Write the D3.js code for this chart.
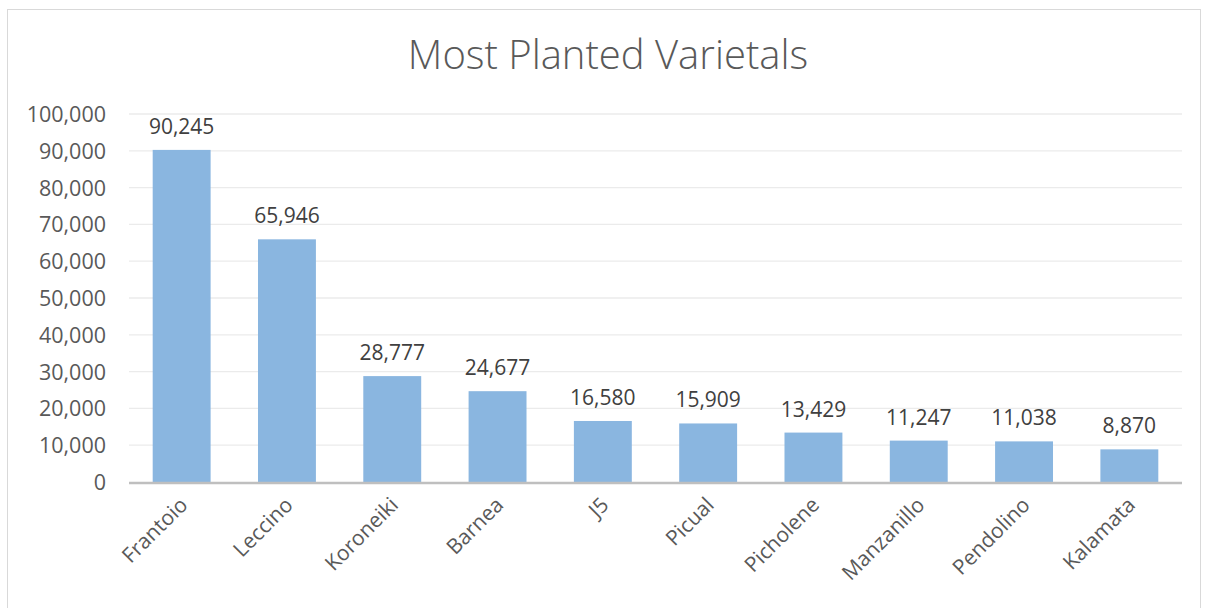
<!DOCTYPE html>
<html>
<head>
<meta charset="utf-8">
<title>Most Planted Varietals</title>
<script src="https://d3js.org/d3.v7.min.js"></script>
<style>
  body { margin: 0; background: #fff; }
  text { font-family: "Open Sans", "Liberation Sans", sans-serif; fill: #595959; }
</style>
</head>
<body>
<svg width="1205" height="608"></svg>
<script>
// data
var varietals = ["Frantoio", "Leccino", "Koroneiki", "Barnea", "J5", "Picual", "Picholene", "Manzanillo", "Pendolino", "Kalamata"];
var acres = [90245, 65946, 28777, 24677, 16580, 15909, 13429, 11247, 11038, 8870];
var yTicks = [0, 10000, 20000, 30000, 40000, 50000, 60000, 70000, 80000, 90000, 100000];

var svg = d3.select("svg");

// chart border
svg.append("rect")
  .attr("x", 7.5).attr("y", 9.5)
  .attr("width", 1193).attr("height", 620)
  .attr("fill", "none").attr("stroke", "#d9d9d9");

var plotLeft = 129, plotRight = 1182, plotTop = 114, plotBottom = 482;

var x = d3.scaleBand().domain(varietals).range([plotLeft, plotRight]).paddingInner(0.45).paddingOuter(0.225);
var y = d3.scaleLinear().domain([0, 100000]).range([plotBottom, plotTop]);

// title
svg.append("text")
  .attr("x", 608).attr("y", 69)
  .attr("text-anchor", "middle")
  .style("font-size", "40px").style("font-weight", 300)
  .text("Most Planted Varietals");

// gridlines
svg.append("g").selectAll("line").data(yTicks.slice(1)).enter()
  .append("line")
  .attr("x1", plotLeft).attr("x2", plotRight)
  .attr("y1", function(d){ return y(d); }).attr("y2", function(d){ return y(d); })
  .attr("stroke", "#ebebeb").attr("stroke-width", 1.3);

// y axis labels
var yAxis = d3.axisLeft(y).tickValues(yTicks).tickSize(0).tickPadding(23).tickFormat(d3.format(","));
svg.append("g").attr("transform", "translate(" + plotLeft + ",0)").call(yAxis)
  .call(function(g){ g.select(".domain").remove(); })
  .selectAll("text").style("font-size", "21.5px").style("font-family", null).attr("dy", "0.35em");

// bars
svg.append("g").selectAll("rect").data(acres).enter()
  .append("rect")
  .attr("x", function(d, i){ return x(varietals[i]); })
  .attr("y", function(d){ return y(d); })
  .attr("width", x.bandwidth())
  .attr("height", function(d){ return plotBottom - y(d); })
  .attr("fill", "#8ab6e0");

// value labels
svg.append("g").selectAll("text").data(acres).enter()
  .append("text")
  .attr("x", function(d, i){ return x(varietals[i]) + x.bandwidth() / 2; })
  .attr("y", function(d){ return y(d) - 16; })
  .attr("text-anchor", "middle")
  .style("font-size", "21px").style("fill", "#404040")
  .text(function(d){ return d3.format(",")(d); });

// x axis line
svg.append("line")
  .attr("x1", plotLeft).attr("x2", plotRight)
  .attr("y1", plotBottom + 1).attr("y2", plotBottom + 1)
  .attr("stroke", "#bfbfbf").attr("stroke-width", 2.5);

// x labels, rotated
svg.append("g").selectAll("text").data(varietals).enter()
  .append("text")
  .attr("transform", function(d){
    var cx = x(d) + x.bandwidth() / 2 + 2;
    return "translate(" + cx + "," + (plotBottom + 19) + ") rotate(-45)";
  })
  .attr("text-anchor", "end")
  .attr("dy", "0.35em")
  .style("font-size", "21px")
  .text(function(d){ return d; });
</script>
</body>
</html>
